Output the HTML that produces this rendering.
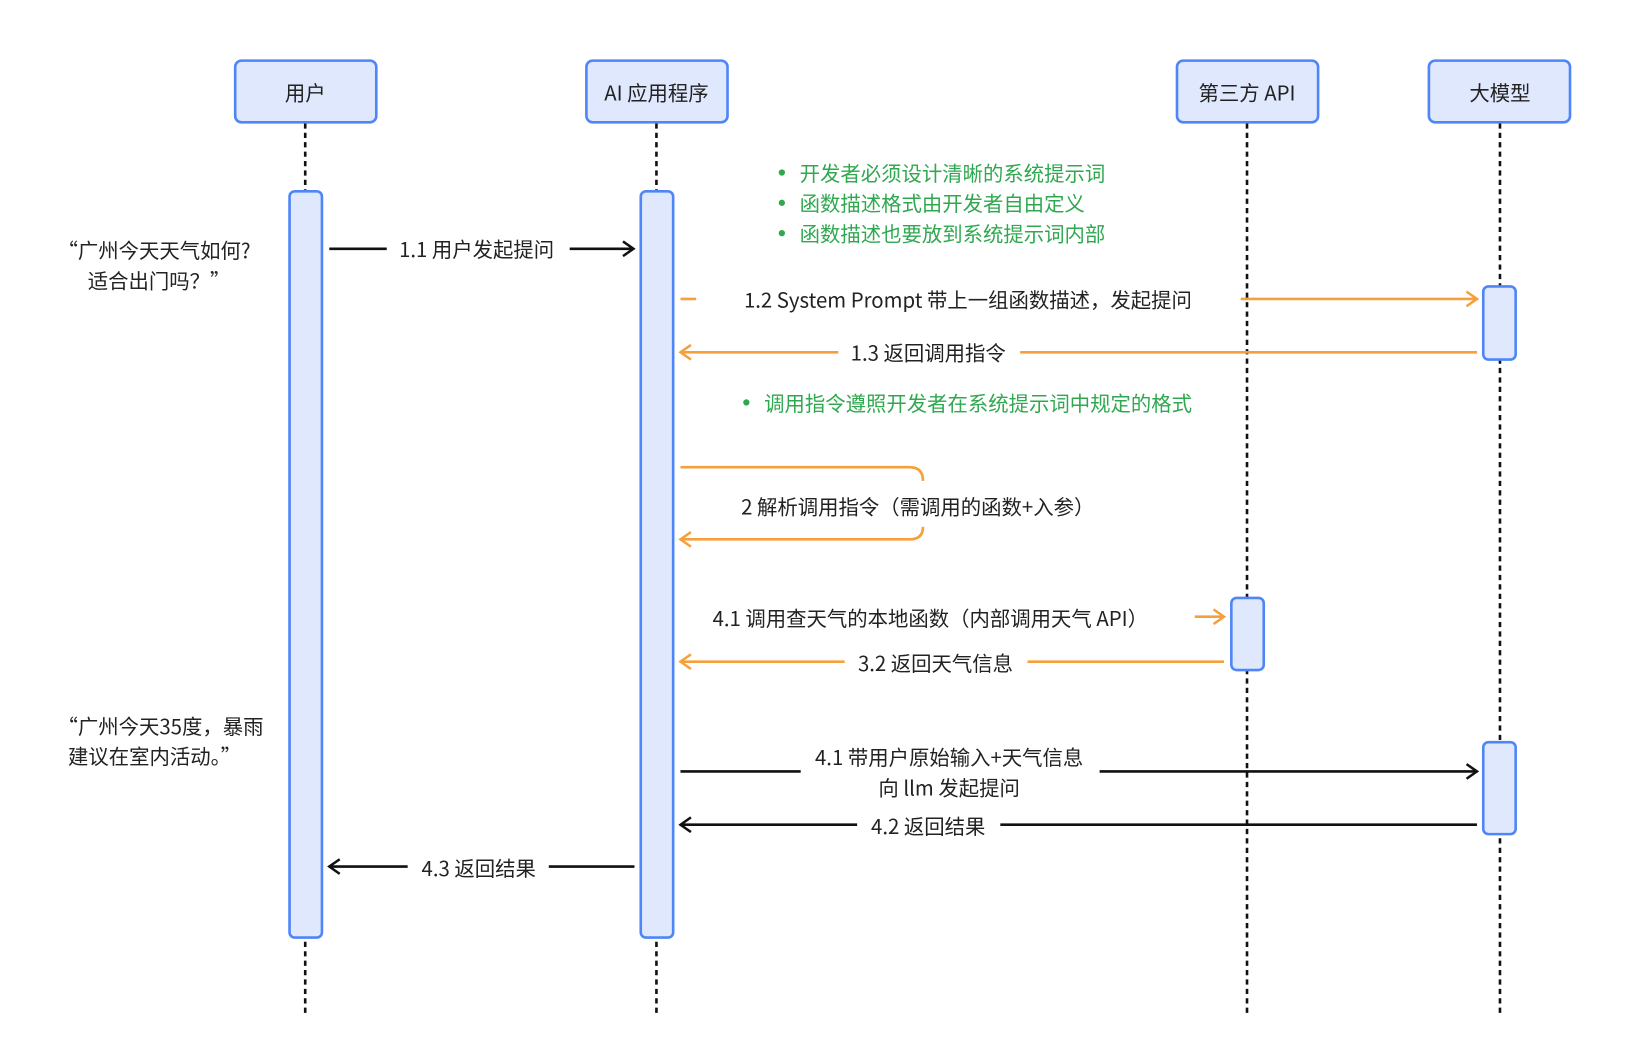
<!DOCTYPE html>
<html><head><meta charset="utf-8"><style>
html,body{margin:0;padding:0;background:#fff;width:1639px;height:1062px;overflow:hidden}
text{font-family:"Noto Sans CJK SC","Liberation Sans",sans-serif;font-size:19.5px;fill:#222}
.g{fill:#2fa84f}
</style></head><body>
<svg width="1639" height="1062" viewBox="0 0 1568 1016" xmlns="http://www.w3.org/2000/svg">
<defs>
<marker id="ab" markerWidth="14" markerHeight="16" refX="12" refY="8" orient="auto" markerUnits="userSpaceOnUse"><path d="M2,1 L12,8 L2,15" fill="none" stroke="#111" stroke-width="2.4"/></marker>
<marker id="ao" markerWidth="14" markerHeight="16" refX="12" refY="8" orient="auto" markerUnits="userSpaceOnUse"><path d="M2,1 L12,8 L2,15" fill="none" stroke="#f5a03a" stroke-width="2.4"/></marker>
</defs>
<g stroke="#111" stroke-width="2.5" stroke-dasharray="5 4">
<line x1="292" y1="118" x2="292" y2="970"/>
<line x1="628" y1="118" x2="628" y2="972"/>
<line x1="1193" y1="118" x2="1193" y2="972"/>
<line x1="1435" y1="118" x2="1435" y2="972"/>
</g>
<g fill="#dfe8fd" stroke="#4f86f7" stroke-width="2.5">
<rect x="225" y="58" width="135" height="59" rx="6"/>
<rect x="561" y="58" width="135" height="59" rx="6"/>
<rect x="1126" y="58" width="135" height="59" rx="6"/>
<rect x="1367" y="58" width="135" height="59" rx="6"/>
<rect x="277" y="183" width="31" height="714" rx="5"/>
<rect x="613" y="183" width="31" height="714" rx="5"/>
<rect x="1419" y="274" width="31" height="70" rx="5"/>
<rect x="1419" y="710" width="31" height="88" rx="5"/>
<rect x="1178" y="572" width="31" height="69" rx="5"/>
</g>
<g transform="translate(0,1)">
<g text-anchor="middle">
<text x="292" y="95">用户</text>
<text x="628" y="95">AI 应用程序</text>
<text x="1193" y="95">第三方 API</text>
<text x="1435" y="95">大模型</text>
</g>
<text x="55" y="246">“广州今天天气如何?</text>
<text x="84" y="275">适合出门吗？”</text>
<text x="55" y="701">“广州今天35度，暴雨</text>
<text x="65" y="730">建议在室内活动。”</text>
<text class="g" x="765" y="172">开发者必须设计清晰的系统提示词</text>
<text class="g" x="765" y="201">函数描述格式由开发者自由定义</text>
<text class="g" x="765" y="230">函数描述也要放到系统提示词内部</text>
<text class="g" x="731" y="392">调用指令遵照开发者在系统提示词中规定的格式</text>
<g text-anchor="middle">
<text x="456" y="245">1.1 用户发起提问</text>
<text x="926" y="293">1.2 System Prompt 带上一组函数描述，发起提问</text>
<text x="888" y="344">1.3 返回调用指令</text>
<text x="878" y="491">2 解析调用指令（需调用的函数+入参）</text>
<text x="890" y="598">4.1 调用查天气的本地函数（内部调用天气 API）</text>
<text x="895" y="641">3.2 返回天气信息</text>
<text x="908" y="731">4.1 带用户原始输入+天气信息</text>
<text x="908" y="760">向 llm 发起提问</text>
<text x="888" y="797">4.2 返回结果</text>
<text x="458" y="837">4.3 返回结果</text>
</g>
</g>
<circle cx="748" cy="165" r="3" class="g"/><circle cx="748" cy="194" r="3" class="g"/><circle cx="748" cy="223" r="3" class="g"/><circle cx="714" cy="385" r="3" class="g"/>
<g fill="none" stroke-width="2.5">
<line x1="315" y1="238" x2="370" y2="238" stroke="#111"/>
<line x1="545" y1="238" x2="606" y2="238" stroke="#111" marker-end="url(#ab)"/>
<line x1="651" y1="286" x2="666" y2="286" stroke="#f5a03a"/>
<line x1="1187" y1="286" x2="1413" y2="286" stroke="#f5a03a" marker-end="url(#ao)"/>
<line x1="1413" y1="337" x2="976" y2="337" stroke="#f5a03a"/>
<line x1="802" y1="337" x2="651" y2="337" stroke="#f5a03a" marker-end="url(#ao)"/>
<path d="M651,447 L870,447 Q883,447 883,460" stroke="#f5a03a"/>
<path d="M883,504 Q883,516 870,516 L651,516" stroke="#f5a03a" marker-end="url(#ao)"/>
<line x1="1143" y1="590" x2="1171" y2="590" stroke="#f5a03a" marker-end="url(#ao)"/>
<line x1="1171" y1="633" x2="983" y2="633" stroke="#f5a03a"/>
<line x1="808" y1="633" x2="651" y2="633" stroke="#f5a03a" marker-end="url(#ao)"/>
<line x1="651" y1="738" x2="766" y2="738" stroke="#111"/>
<line x1="1052" y1="738" x2="1413" y2="738" stroke="#111" marker-end="url(#ab)"/>
<line x1="1413" y1="789" x2="957" y2="789" stroke="#111"/>
<line x1="820" y1="789" x2="651" y2="789" stroke="#111" marker-end="url(#ab)"/>
<line x1="607" y1="829" x2="525" y2="829" stroke="#111"/>
<line x1="390" y1="829" x2="315" y2="829" stroke="#111" marker-end="url(#ab)"/>
</g>
</svg>
</body></html>
